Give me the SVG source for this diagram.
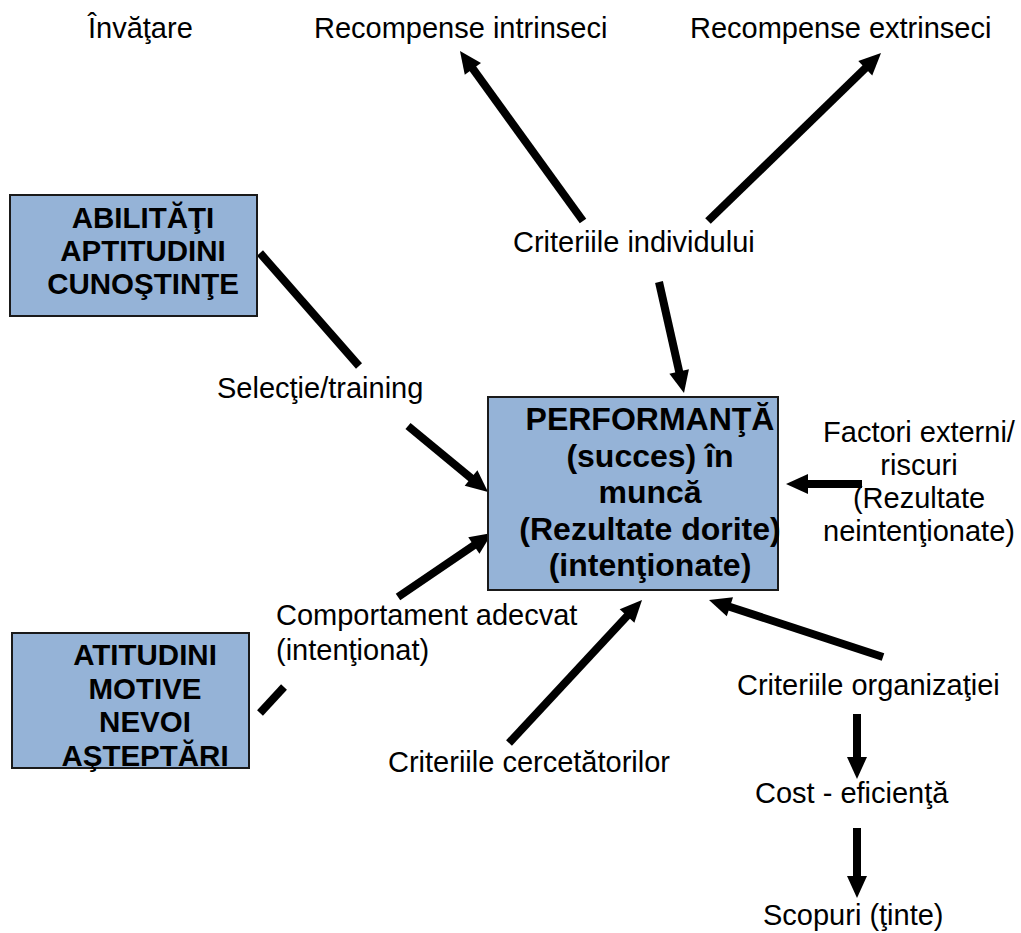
<svg xmlns="http://www.w3.org/2000/svg" width="1021" height="933" viewBox="0 0 1021 933">
<style>
.t{font-family:"Liberation Sans",Arial,sans-serif;font-size:29px;fill:#000}
.b{font-family:"Liberation Sans",Arial,sans-serif;font-weight:bold;fill:#000;text-anchor:middle}
.box{fill:#95B3D7;stroke:#1a1a1a;stroke-width:2}
.ln{stroke:#000;stroke-width:8;fill:none;stroke-linecap:butt}
.ar{stroke:#000;stroke-width:8;fill:none;stroke-linecap:butt;marker-end:url(#ah)}
</style>
<defs>
<marker id="ah" markerUnits="userSpaceOnUse" markerWidth="24" markerHeight="22" refX="2" refY="10" orient="auto" overflow="visible">
<path d="M0,0 L22,10 L0,20 z" fill="#000"/>
</marker>
</defs>
<rect width="1021" height="933" fill="#fff"/>
<g id="connectors">
<line class="ar" x1="583" y1="221" x2="471.7" y2="67.2"/>
<line class="ar" x1="708" y1="221" x2="866.7" y2="66.9"/>
<line class="ar" x1="659" y1="282" x2="679.6" y2="373.5"/>
<line class="ln" x1="260" y1="253" x2="359" y2="366"/>
<line class="ar" x1="408" y1="426" x2="472.6" y2="479.3"/>
<line class="ar" x1="398" y1="597" x2="475.5" y2="544.3"/>
<line class="ln" x1="260" y1="713" x2="284" y2="687"/>
<line class="ar" x1="509" y1="743" x2="628.4" y2="614.6"/>
<line class="ar" x1="883" y1="657" x2="728" y2="606.2"/>
<line class="ar" x1="862" y1="484" x2="806" y2="484"/>
<line class="ar" x1="857" y1="714" x2="857" y2="759"/>
<line class="ar" x1="857" y1="828" x2="857" y2="878"/>
</g>
<g id="box-abilitati">
<rect class="box" x="10" y="195" width="247" height="121"/>
<text class="b" font-size="29.5" x="143" y="228">ABILITĂŢI</text>
<text class="b" font-size="29.5" x="143" y="261">APTITUDINI</text>
<text class="b" font-size="29.5" x="143" y="294">CUNOŞTINŢE</text>
</g>
<g id="box-atitudini">
<rect class="box" x="12" y="633" width="237" height="135"/>
<text class="b" font-size="29.5" x="145" y="665">ATITUDINI</text>
<text class="b" font-size="29.5" x="145" y="699">MOTIVE</text>
<text class="b" font-size="29.5" x="145" y="732">NEVOI</text>
<text class="b" font-size="29.5" x="145" y="766">AŞTEPTĂRI</text>
</g>
<g id="box-performanta">
<rect class="box" x="488" y="397" width="290" height="193"/>
<text class="b" font-size="32" x="650" y="430">PERFORMANŢĂ</text>
<text class="b" font-size="32" x="650" y="467">(succes) în</text>
<text class="b" font-size="32" x="650" y="503">muncă</text>
<text class="b" font-size="32" x="650" y="540">(Rezultate dorite)</text>
<text class="b" font-size="32" x="650" y="576">(intenţionate)</text>
</g>
<g id="invatare"><text class="t" x="88" y="38">Învăţare</text></g>
<g id="rec-intrinseci"><text class="t" x="314" y="38">Recompense intrinseci</text></g>
<g id="rec-extrinseci"><text class="t" x="690" y="38">Recompense extrinseci</text></g>
<g id="criteriile-individului"><text class="t" x="513" y="252">Criteriile individului</text></g>
<g id="selectie"><text class="t" x="217" y="398">Selecţie/training</text></g>
<g id="factori" text-anchor="middle">
<text class="t" x="919" y="442">Factori externi/</text>
<text class="t" x="919" y="475">riscuri</text>
<text class="t" x="919" y="508">(Rezultate</text>
<text class="t" x="919" y="541">neintenţionate)</text>
</g>
<g id="comportament">
<text class="t" x="276" y="625">Comportament adecvat</text>
<text class="t" x="276" y="660">(intenţionat)</text>
</g>
<g id="criteriile-cercetatorilor"><text class="t" x="388" y="772">Criteriile cercetătorilor</text></g>
<g id="criteriile-organizatiei"><text class="t" x="737" y="695">Criteriile organizaţiei</text></g>
<g id="cost"><text class="t" x="755" y="803">Cost - eficienţă</text></g>
<g id="scopuri"><text class="t" x="763" y="925">Scopuri (ţinte)</text></g>
</svg>
